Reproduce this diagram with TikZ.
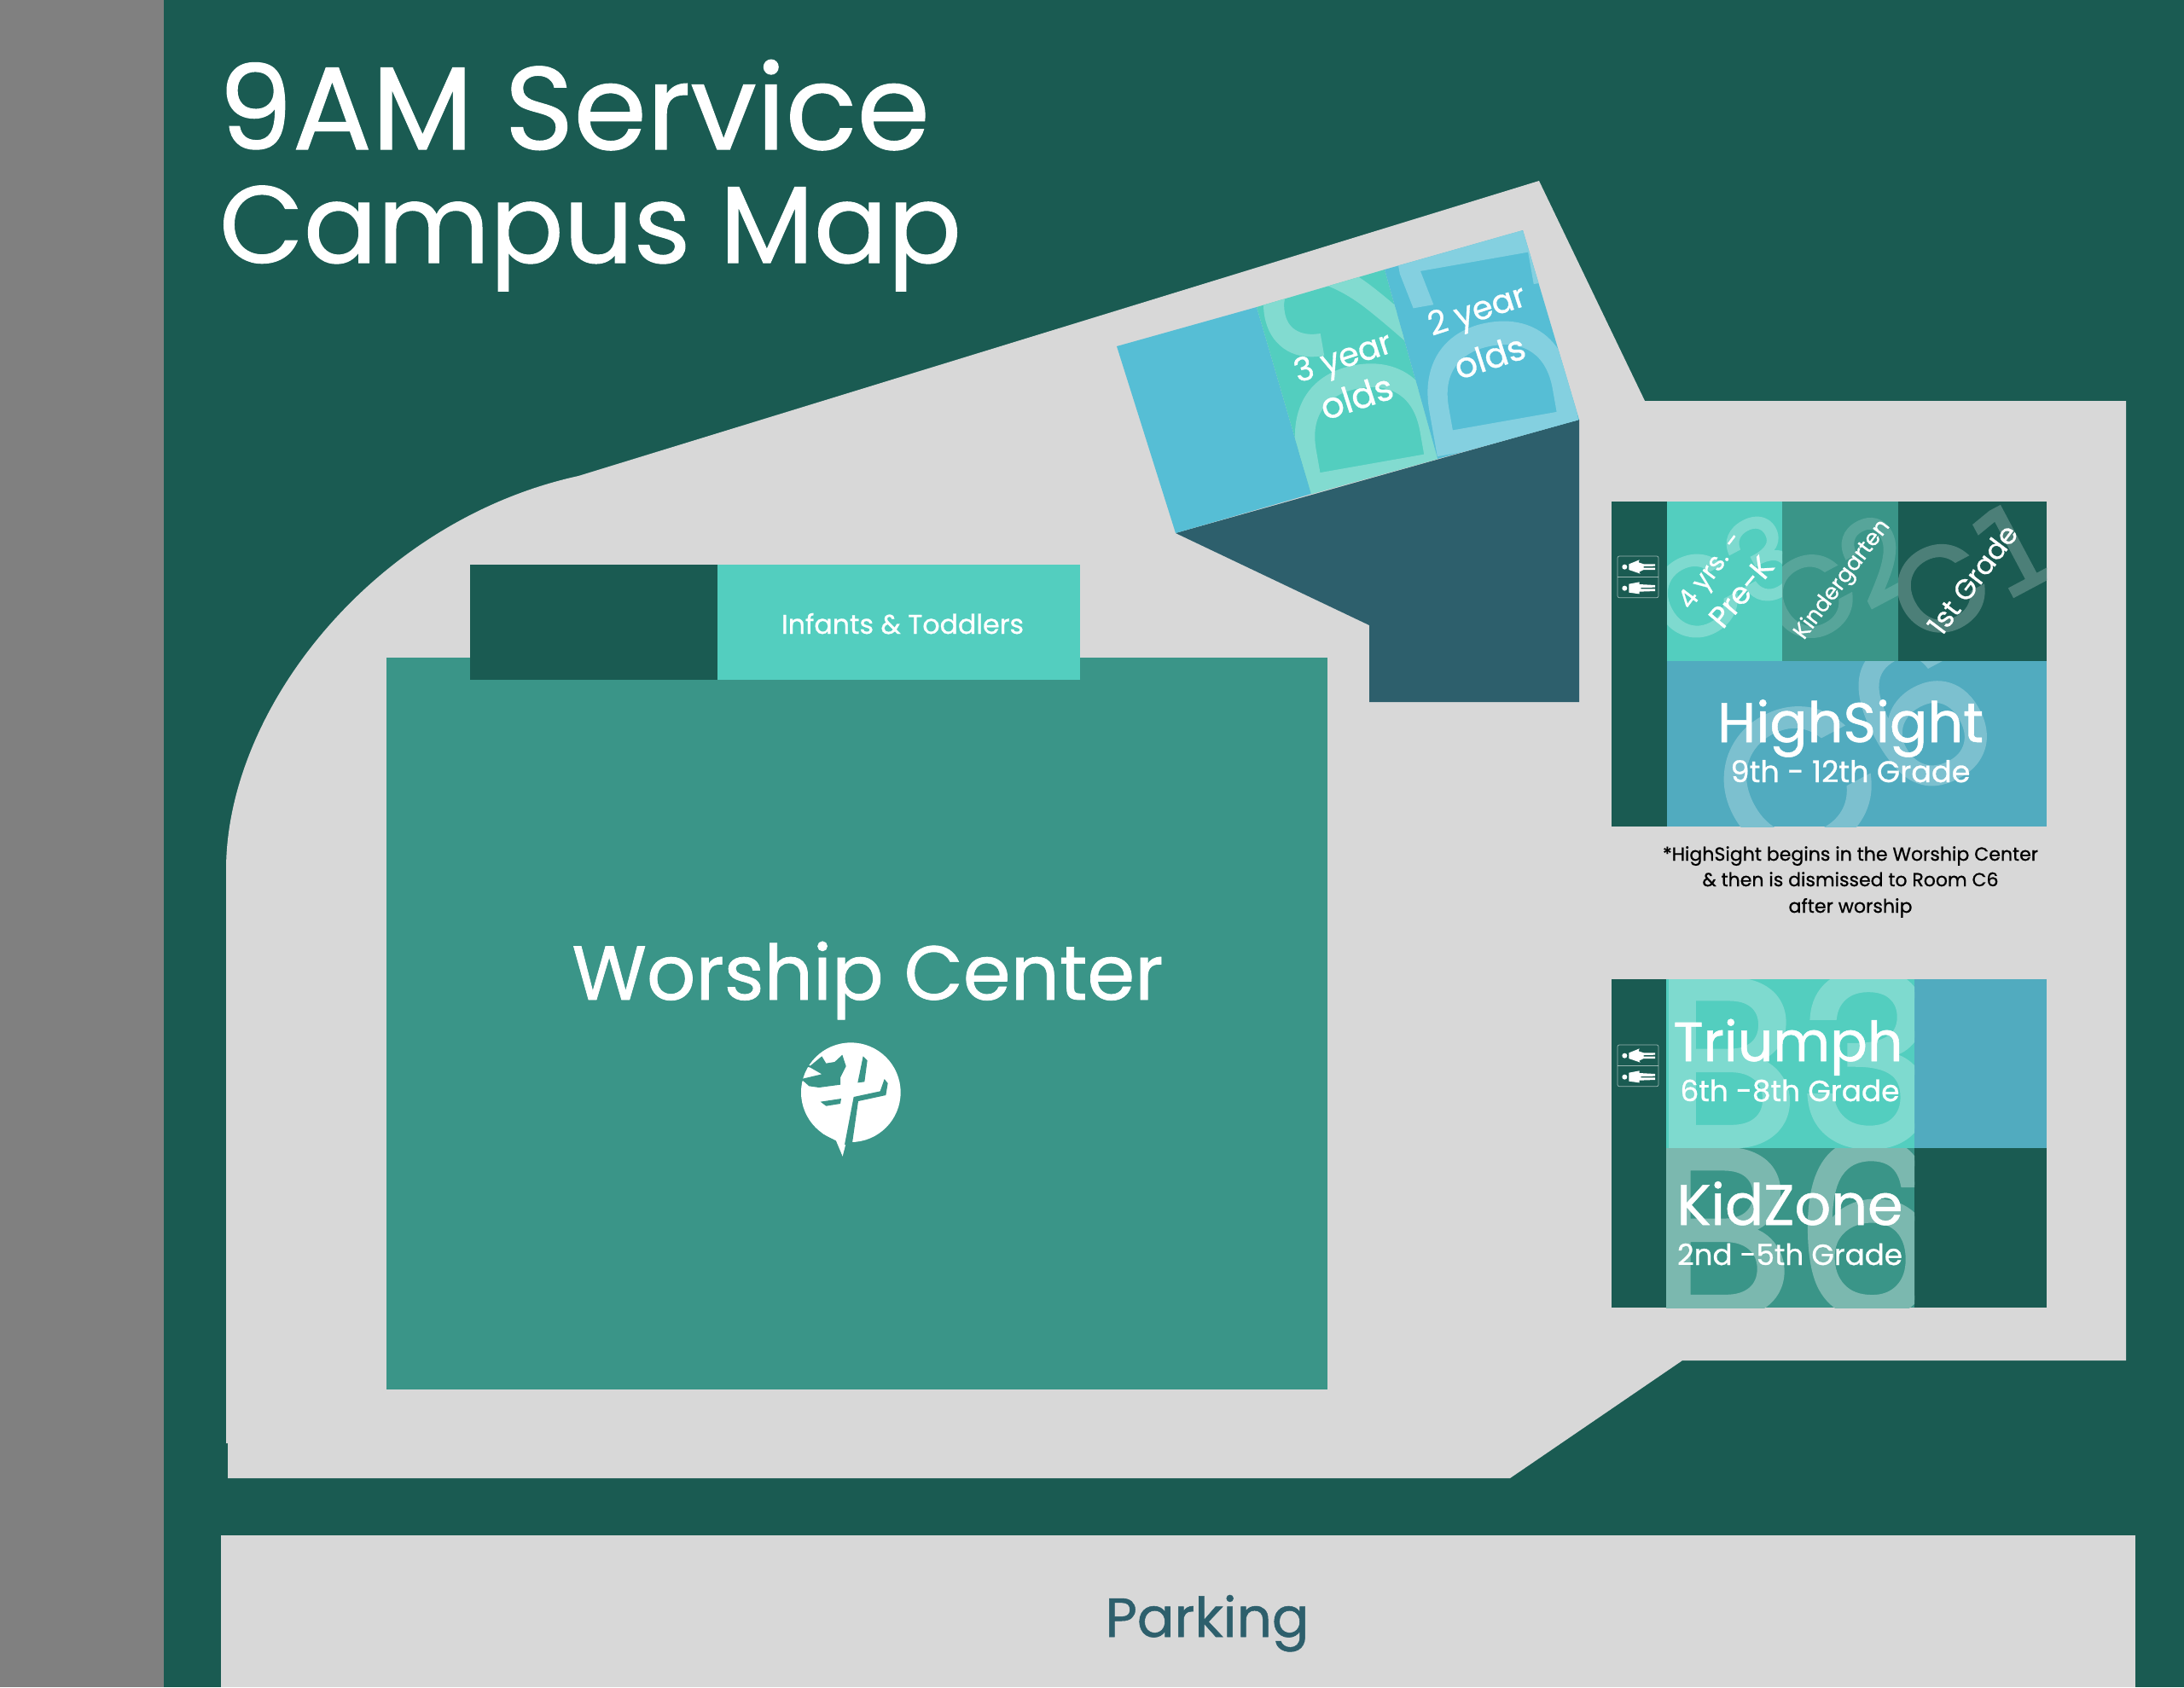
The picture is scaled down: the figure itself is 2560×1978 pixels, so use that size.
\documentclass[tikz,border=0pt]{standalone}
\usepackage{fontspec}
\usepackage{graphicx}
\setmainfont{Poppins}[FakeBold=0.8]
\newfontfamily\ghostfont{Poppins}[FakeBold=2.4]
\newfontfamily\onefont{DejaVu Sans}[FakeBold=1.2]
\definecolor{bgdark}{HTML}{1A5B52}
\definecolor{lotgrey}{HTML}{D8D8D8}
\definecolor{strip}{HTML}{808080}
\definecolor{teal}{HTML}{3A9588}
\definecolor{mint}{HTML}{53CEBF}
\definecolor{sky}{HTML}{56BED5}
\definecolor{lake}{HTML}{51ABBF}
\definecolor{slate}{HTML}{2D5F6C}
\newlength{\pxu}\setlength{\pxu}{0.5pt}
\newcommand{\fitw}[2]{\resizebox{#1\pxu}{!}{\fontsize{30}{36}\selectfont #2}}
\tikzset{
  lbl/.style={inner sep=0pt,outer sep=0pt,anchor=base,text=white},
  rlbl/.style={inner sep=0pt,outer sep=0pt,anchor=center,text=white,rotate=#1},
  ghost/.style={inner sep=0pt,outer sep=0pt,anchor=center,rotate=#1},
  ghostb/.style={inner sep=0pt,outer sep=0pt,anchor=base},
}
\newcommand{\restroom}[2]{%
  \begin{scope}[shift={(#1,#2)},scale=1/3]
    \draw[white,opacity=.55,line width=.35pt,rounded corners=1pt] (0,0) rectangle (144,146);
    \draw[white,opacity=.55,line width=.35pt] (0,74) -- (144,74);
    \fill[white] (25,38) circle (9);
    \fill[white] (40,28) -- (77,13) -- (74,22) -- (92,28) -- (132,28) -- (132,35) -- (92,36) -- (92,41) -- (132,41) -- (132,48) -- (92,48) -- (76,56) -- (80,62) -- (40,48) -- cycle;
    \fill[white] (25,113) circle (9);
    \fill[white] (40,98) -- (77,91) -- (77,99) -- (132,102) -- (132,110) -- (82,111) -- (82,115) -- (132,115) -- (132,123) -- (77,125) -- (77,133) -- (40,128) -- cycle;
  \end{scope}}
\begin{document}
\begin{tikzpicture}[x=0.5pt,y=-0.5pt]
\useasboundingbox (0,0) rectangle (2560,1978);
\fill[bgdark] (0,0) rectangle (2560,1978);
\fill[strip] (0,0) rectangle (192,1978);
% grounds
\fill[lotgrey] (1804,212) -- (678,558) .. controls (440,610) and (265,830) .. (265,1020) -- (265,1692) -- (267,1692) -- (267,1733) -- (1770,1733) -- (1972,1595) -- (2492,1595) -- (2492,470) -- (1928,470) -- cycle;
\fill[lotgrey] (259,1800) rectangle (2503,1978);
\node[lbl,text=slate] (parking) at (1415,1919) {\fitw{239}{Parking}};
% title
\node[lbl,anchor=base west] (title1) at (256,175) {\fitw{834}{9AM Service}};
\node[lbl,anchor=base west] (title2) at (257,308) {\fitw{870}{Campus Map}};
% worship
\fill[teal] (453,771) rectangle (1556,1629);
\fill[bgdark] (551,662) rectangle (841,797);
\fill[mint] (841,662) rectangle (1266,797);
\node[lbl] (infants) at (1058,743) {\fitw{284}{Infants \& Toddlers}};
\node[lbl] (worship) at (1017,1172) {\fitw{693}{Worship Center}};
% logo
\begin{scope}[shift={(900,1190)},scale=1/3]
  \fill[white] (292,272) circle (175);
  \fill[white] (190,415) -- (240,442) -- (263,497) -- (280,430) -- cycle;
  \fill[teal] (335,145) -- (350,160) -- (340,235) -- (316,238) -- cycle;
  \fill[teal] (302,288) -- (395,268) -- (410,225) -- (422,240) -- (415,282) -- (318,303) -- (297,450) -- (270,456) -- cycle;
  \fill[teal] (185,305) -- (258,294) -- (255,312) -- (205,320) -- cycle;
  \fill[teal] (115,175) -- (150,178) -- (190,145) -- (205,170) -- (235,165) -- (262,140) -- (275,180) -- (255,220) -- (255,245) -- (180,255) -- (145,250) -- (125,232) -- (97,230) -- (118,225) -- (190,208) -- (150,185) -- cycle;
\end{scope}
% dark block behind nursery rooms
\fill[slate] (1378,625) -- (1851,492) -- (1851,823) -- (1605,823) -- (1605,733) -- cycle;
% nursery rooms
\fill[sky] (1309,406) -- (1473,360) -- (1537,579) -- (1378,625) -- cycle;
\fill[mint] (1473,360) -- (1623,316) -- (1685,538) -- (1537,579) -- cycle;
\fill[sky] (1623,316) -- (1785,270) -- (1851,492) -- (1685,538) -- cycle;
\begin{scope}
  \clip (1473,360) -- (1623,316) -- (1685,538) -- (1537,579) -- cycle;
  \node[ghost=100,text=white!27!mint] (d2) at (1585,437) {\ghostfont\fontsize{118}{118}\selectfont D2};
\end{scope}
\begin{scope}
  \clip (1623,316) -- (1785,270) -- (1851,492) -- (1685,538) -- cycle;
  \node[ghost=100,text=white!27!sky] (d1) at (1740,380) {\ghostfont\fontsize{118}{118}\selectfont D{\onefont 1}};
\end{scope}
\node[rlbl=18] (y3a) at (1575,422) {\fitw{118}{3 year}};
\node[rlbl=18] (y3b) at (1590,465) {\fitw{87}{olds}};
\node[rlbl=18] (y2a) at (1732,367) {\fitw{118}{2 year}};
\node[rlbl=18] (y2b) at (1746,418) {\fitw{85}{olds}};
% upper right building
\fill[bgdark] (1889,588) rectangle (2399,969);
\fill[mint] (1954,588) rectangle (2089,775);
\fill[teal] (2089,588) rectangle (2225,775);
\fill[lake] (1954,775) rectangle (2399,969);
\begin{scope}
  \clip (1954,588) rectangle (2089,775);
  \node[ghost=28,text=white!25!mint] (c3) at (2021,679) {\ghostfont\fontsize{66}{66}\selectfont C3};
\end{scope}
\begin{scope}
  \clip (2089,588) rectangle (2225,775);
  \node[ghost=28,text=white!15!teal] (c2) at (2155,680) {\ghostfont\fontsize{66}{66}\selectfont C2};
\end{scope}
\begin{scope}
  \clip (2225,588) rectangle (2399,775);
  \node[ghost=28,text=white!22!bgdark] (c1) at (2313,668) {\ghostfont\fontsize{70}{70}\selectfont C{\onefont 1}};
\end{scope}
\begin{scope}
  \clip (1954,775) rectangle (2399,969);
  \node[ghost=28,text=white!25!lake] (c6) at (2170,878) {\ghostfont\fontsize{118}{118}\selectfont C6};
\end{scope}
\node[rlbl=53] (k4a) at (2007,670) {\fitw{104}{4 yrs. -}};
\node[rlbl=50] (k4b) at (2041,694) {\fitw{96}{Pre-K}};
\node[rlbl=53] (kg) at (2160,680) {\fitw{168}{Kindergarten}};
\node[rlbl=53] (g1) at (2312,679) {\fitw{151}{1st Grade}};
\node[lbl] (hs) at (2169,870) {\fitw{312}{HighSight}};
\node[lbl] (hsg) at (2169,917) {\fitw{281}{9th - 12th Grade}};
\node[lbl,text=black] (n1) at (2169,1009) {\fitw{440}{*HighSight begins in the Worship Center}};
\node[lbl,text=black] (n2) at (2169,1039) {\fitw{347}{\& then is dismissed to Room C6}};
\node[lbl,text=black] (n3) at (2169,1070) {\fitw{145}{after worship}};
\restroom{1896}{652}
% lower right building
\fill[bgdark] (1889,1148) rectangle (2399,1533);
\fill[mint] (1953,1148) rectangle (2244,1346);
\fill[teal] (1953,1346) rectangle (2244,1533);
\fill[lake] (2244,1148) rectangle (2399,1346);
\begin{scope}
  \clip (1953,1148) rectangle (2244,1346);
  \node[ghostb,text=white!25!mint] (b3) at (2105,1343) {\ghostfont\fontsize{139}{139}\selectfont B3};
\end{scope}
\begin{scope}
  \clip (1953,1346) rectangle (2244,1533);
  \node[ghostb,text=white!33!teal] (b6) at (2105,1542) {\ghostfont\fontsize{139}{139}\selectfont B6};
\end{scope}
\node[lbl] (tr) at (2096,1244) {\fitw{269}{Triumph}};
\node[lbl] (trg) at (2098,1291) {\fitw{257}{6th -8th Grade}};
\node[lbl] (kz) at (2098,1436) {\fitw{265}{KidZone}};
\node[lbl] (kzg) at (2098,1483) {\fitw{264}{2nd -5th Grade}};
\restroom{1896}{1225}
\end{tikzpicture}
\end{document}
